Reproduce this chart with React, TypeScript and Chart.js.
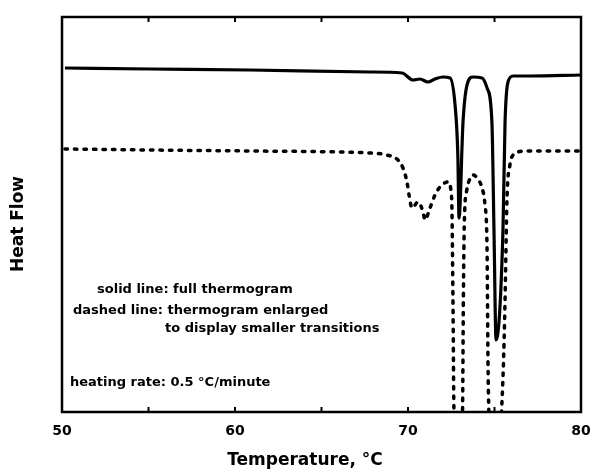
import { useEffect, useRef } from 'react';
import { Chart, registerables } from 'chart.js';

Chart.register(...registerables);

// Solid line: full thermogram
const solidTemperature = [
  50.17, 55.09, 60.87, 67.8, 69.65, 70.29, 70.69, 71.15, 71.56, 72.02, 72.43,
  72.72, 72.88, 72.95, 73.18, 73.41, 73.76, 74.28, 74.57, 74.85, 74.97, 75.09,
  75.49, 75.61, 75.78, 76.07, 77.05, 80.0,
];
const solidHeatFlow = [
  87.09, 86.84, 86.58, 86.08, 85.82, 84.05, 84.3, 83.54, 84.3, 84.81, 84.56,
  77.72, 65.06, 49.11, 73.42, 82.78, 84.81, 84.56, 82.03, 73.42, 46.08, 18.23,
  46.08, 73.42, 83.54, 85.06, 85.06, 85.32,
];

// Dashed line: thermogram enlarged to display smaller transitions
const dashedTemperature = [
  50.17, 55.09, 60.87, 66.07, 67.8, 68.79, 69.42, 69.71, 69.94, 70.06, 70.23,
  70.58, 70.87, 70.98, 71.27, 71.56, 71.85, 72.31, 72.48, 72.54, 72.6, 72.66,
  72.9, 73.15, 73.2, 73.26, 73.4, 73.6, 73.76, 73.99, 74.28, 74.45, 74.57,
  74.63, 74.75, 75.3, 75.5, 75.61, 75.72, 75.89, 76.07, 76.36, 76.76, 80.0,
];
const dashedHeatFlow = [
  66.58, 66.33, 66.08, 65.82, 65.57, 65.06, 63.8, 61.77, 58.23, 54.94, 51.65,
  53.16, 50.63, 48.61, 51.65, 54.94, 56.96, 58.23, 56.2, 51.14, 28.0, 0.0,
  -4.6, 0.0, 28.35, 48.61, 56.2, 59.24, 60.0, 59.24, 56.71, 52.41, 41.01,
  10.0, -4.6, -4.6, 10.0, 28.35, 53.67, 62.53, 65.06, 65.82, 66.08, 66.08,
];

const xMin = 50;
const xMax = 80;
const xLabelStep = 10;
const minorTickValues = [50, 55, 60, 65, 70, 75, 80];

const xTitle = 'Temperature, \u00B0C';
const yTitle = 'Heat Flow';
const noteLines = [
  'solid line: full thermogram',
  'dashed line: thermogram enlarged',
  'to display smaller transitions',
  'heating rate: 0.5 \u00B0C/minute',
];

const FONT = '"DejaVu Sans", "Liberation Sans", Arial, sans-serif';

const framePlugin = {
  id: 'frameAndText',
  afterDatasetsDraw(chart: any) {
    const { ctx, chartArea } = chart;
    const xs = chart.scales.x;
    const { left, right, top, bottom } = chartArea;
    ctx.save();
    ctx.strokeStyle = '#000';
    ctx.lineWidth = 2.5;
    ctx.strokeRect(left, top, right - left, bottom - top);
    // inward ticks, top and bottom
    ctx.lineWidth = 2;
    minorTickValues.forEach((v) => {
      const px = xs.getPixelForValue(v);
      ctx.beginPath();
      ctx.moveTo(px, bottom);
      ctx.lineTo(px, bottom - 5);
      ctx.moveTo(px, top);
      ctx.lineTo(px, top + 5);
      ctx.stroke();
    });
    ctx.restore();
  },
  afterDraw(chart: any) {
    const { ctx } = chart;
    ctx.save();
    ctx.fillStyle = '#000';
    ctx.textBaseline = 'middle';
    ctx.textAlign = 'left';
    ctx.font = `bold 13px ${FONT}`;
    const notePos = [
      [97, 290],
      [73, 311],
      [165, 329],
      [70, 383],
    ];
    noteLines.forEach((t, i) => {
      ctx.fillText(t, notePos[i][0], notePos[i][1]);
    });
    ctx.textAlign = 'center';
    ctx.font = `bold 17px ${FONT}`;
    ctx.fillText(xTitle, 305, 461);
    ctx.translate(19, 224);
    ctx.rotate(-Math.PI / 2);
    ctx.font = `bold 17px ${FONT}`;
    ctx.fillText(yTitle, 0, 0);
    ctx.restore();
  },
};

export default function App() {
  const canvasRef = useRef<HTMLCanvasElement | null>(null);

  useEffect(() => {
    if (!canvasRef.current) return;
    const solid = solidTemperature.map((x, i) => ({ x, y: solidHeatFlow[i] }));
    const dashed = dashedTemperature.map((x, i) => ({ x, y: dashedHeatFlow[i] }));
    const chart = new Chart(canvasRef.current, {
      type: 'line',
      data: {
        datasets: [
          {
            label: 'full thermogram',
            data: solid,
            borderColor: '#000',
            borderWidth: 3.2,
            pointRadius: 0,
            cubicInterpolationMode: 'monotone',
            fill: false,
          },
          {
            label: 'thermogram enlarged',
            data: dashed,
            borderColor: '#000',
            borderWidth: 3.5,
            borderDash: [2.5, 7],
            borderCapStyle: 'round',
            pointRadius: 0,
            cubicInterpolationMode: 'monotone',
            fill: false,
          },
        ],
      },
      options: {
        animation: false,
        responsive: true,
        maintainAspectRatio: false,
        layout: { padding: { top: 17, right: 0, left: 0, bottom: 0 } },
        plugins: {
          legend: { display: false },
          tooltip: { enabled: false },
          title: { display: false },
        },
        scales: {
          x: {
            type: 'linear',
            min: xMin,
            max: xMax,
            grid: { display: false, drawTicks: false },
            border: { display: false },
            ticks: {
              stepSize: xLabelStep,
              color: '#000',
              padding: 11,
              font: { family: FONT, size: 14, weight: 'bold' },
            },
            afterFit: (s: any) => {
              s.height = 63;
              s.paddingRight = 10;
            },
          },
          y: {
            type: 'linear',
            min: 0,
            max: 100,
            grid: { display: false, drawTicks: false },
            border: { display: false },
            ticks: { display: false },
            afterFit: (s: any) => {
              s.width = 62;
            },
          },
        },
      } as any,
      plugins: [framePlugin],
    });
    return () => chart.destroy();
  }, []);

  return (
    <div style={{ position: 'absolute', left: 0, top: 0, width: 591, height: 475, background: '#fff' }}>
      <canvas ref={canvasRef} />
    </div>
  );
}
